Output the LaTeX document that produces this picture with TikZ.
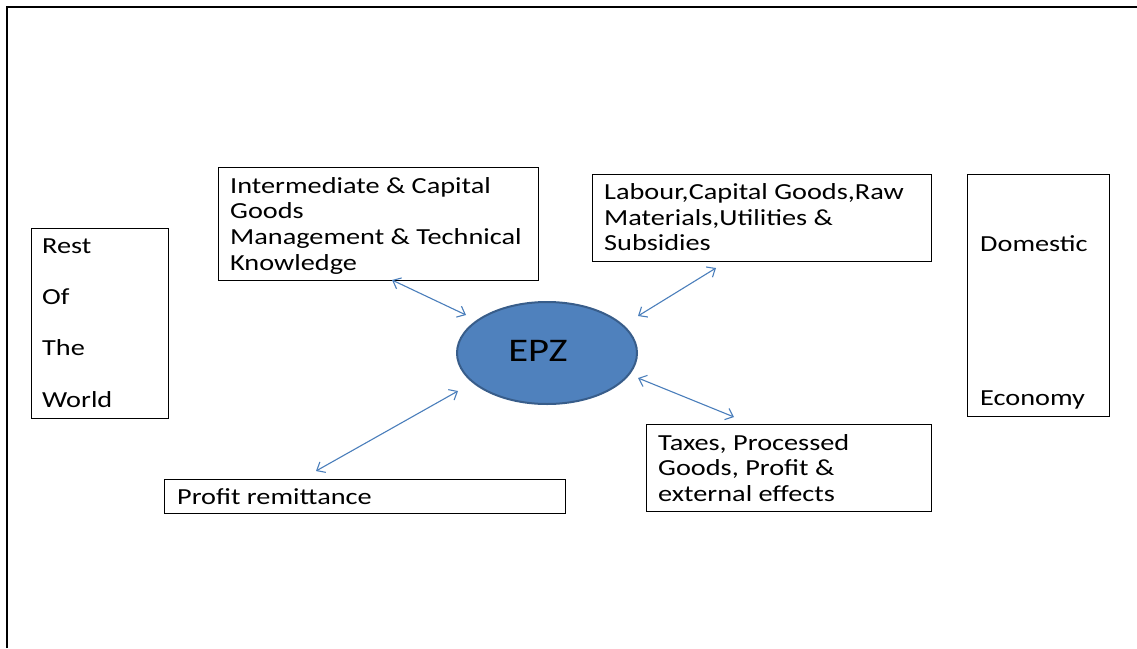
\documentclass[tikz,border=0pt]{standalone}
\usepackage{fontspec}
\setmainfont{Carlito}[FakeStretch=1.23]
\usetikzlibrary{arrows.meta,shapes.geometric}
\definecolor{flowblue}{HTML}{4A7EBB}
\definecolor{zonefill}{HTML}{4F81BD}
\definecolor{zoneedge}{HTML}{385D8A}
\begin{document}
\begin{tikzpicture}[x=1pt,y=-1pt,
  panel/.style={draw=black, line width=1.1pt, inner sep=0pt, anchor=north west},
  label/.style={anchor=base west, inner sep=0pt, font=\fontsize{23}{25.7}\selectfont},
  flow/.style={draw=flowblue, line width=1.1pt,
    {Straight Barb[length=7pt,width=12pt,line width=1.1pt]}-{Straight Barb[length=7pt,width=12pt,line width=1.1pt]}}]
\useasboundingbox (0,0) rectangle (1137,648);

% page frame (top and left edges)
\draw[line width=2.6pt] (7,648) -- (7,7) -- (1137,7);

% boxes
\node[panel, minimum width=320pt, minimum height=113pt] (inputs) at (218,167) {};
\node[panel, minimum width=339pt, minimum height=87pt] (local) at (592,174) {};
\node[panel, minimum width=137pt, minimum height=190pt] (world) at (31,228) {};
\node[panel, minimum width=142pt, minimum height=242pt] (domestic) at (967,174) {};
\node[panel, minimum width=285pt, minimum height=87pt] (taxes) at (646,424) {};
\node[panel, minimum width=401pt, minimum height=34pt] (profit) at (164,479) {};

% central zone
\node[ellipse, draw=zoneedge, fill=zonefill, line width=2pt, inner sep=0pt,
      minimum width=180pt, minimum height=102pt] (epz) at (547,353) {};
\node[anchor=base, inner sep=0pt, font=\fontsize{33}{40}\selectfont] (epzt) at (538,361) {EPZ};

% box texts
\node[label] (i1) at (230,193) {Intermediate \& Capital};
\node[label] (i2) at (230,218.7) {Goods};
\node[label] (i3) at (230,244.4) {Management \& Technical};
\node[label] (i4) at (230,270) {Knowledge};

\node[label] (l1) at (604,199.5) {Labour,Capital Goods,Raw};
\node[label] (l2) at (604,225) {Materials,Utilities \&};
\node[label] (l3) at (604,250.5) {Subsidies};

\node[label] (w1) at (42,253) {Rest};
\node[label] (w2) at (42,304.3) {Of};
\node[label] (w3) at (42,355.5) {The};
\node[label] (w4) at (42,407) {World};

\node[label] (d1) at (980,251.5) {Domestic};
\node[label] (d2) at (980,405) {Economy};

\node[label] (t1) at (658,450) {Taxes, Processed};
\node[label] (t2) at (658,475.5) {Goods, Profit \&};
\node[label] (t3) at (658,501.3) {external effects};

\node[label] (p1) at (177,504) {Profit remittance};

% two-way flows
\coordinate (a1s) at (392,280); \coordinate (a1e) at (466,315);
\coordinate (a2s) at (716,268); \coordinate (a2e) at (638,316);
\coordinate (a3s) at (458,391); \coordinate (a3e) at (316,471);
\coordinate (a4s) at (638,378); \coordinate (a4e) at (734,417);
\draw[flow] (a1s) -- (a1e);
\draw[flow] (a2s) -- (a2e);
\draw[flow] (a3s) -- (a3e);
\draw[flow] (a4s) -- (a4e);
\end{tikzpicture}
\end{document}
